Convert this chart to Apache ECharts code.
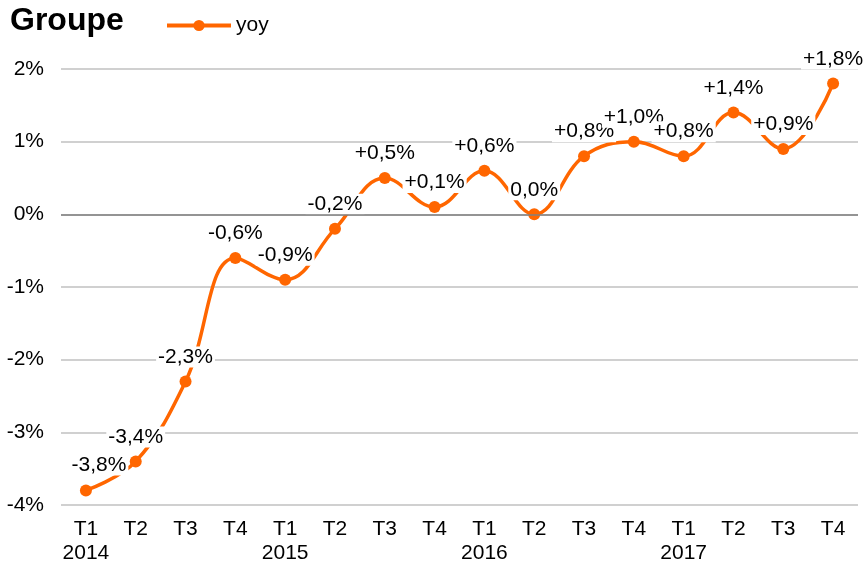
<!DOCTYPE html>
<html>
<head>
<meta charset="utf-8">
<script src="https://cdn.jsdelivr.net/npm/echarts@6/dist/echarts.min.js"></script>
<style>
  html, body { margin: 0; padding: 0; background: #fff; }
  #chart { width: 867px; height: 565px; }
</style>
</head>
<body>
<div id="chart"></div>
<script>
// Quarterly year-over-year change, 2014 to 2017
const quarters = ['T1', 'T2', 'T3', 'T4', 'T1', 'T2', 'T3', 'T4', 'T1', 'T2', 'T3', 'T4', 'T1', 'T2', 'T3', 'T4'];
const years = ['2014', '', '', '', '2015', '', '', '', '2016', '', '', '', '2017', '', '', ''];
const yoy = [-3.8, -3.4, -2.3, -0.6, -0.9, -0.2, 0.5, 0.1, 0.6, 0.0, 0.8, 1.0, 0.8, 1.4, 0.9, 1.8];

const orange = '#FF6600';
const font = '"Liberation Sans", Arial, Helvetica, sans-serif';

function pct(v) {
  const s = Math.abs(v).toFixed(1).replace('.', ',');
  if (v > 0) return '+' + s + '%';
  if (v < 0) return '-' + s + '%';
  return s + '%';
}

const categories = quarters.map((q, i) => q + '\n' + years[i]);

const chart = echarts.init(document.getElementById('chart'), null, { renderer: 'canvas' });
chart.setOption({
  animation: false,
  backgroundColor: '#fff',
  title: {
    text: 'Groupe',
    left: 5,
    top: 0,
    textStyle: { fontFamily: font, fontSize: 32, fontWeight: 'bold', color: '#000' }
  },
  legend: {
    left: 160,
    top: 10,
    itemWidth: 64,
    itemHeight: 14,
    lineStyle: { width: 4 },
    textStyle: { fontFamily: font, fontSize: 21, color: '#000' },
    data: ['yoy']
  },
  grid: { left: 61, right: 9, top: 69, bottom: 60, containLabel: false, outerBoundsMode: 'none' },
  xAxis: {
    type: 'category',
    data: categories,
    boundaryGap: true,
    axisLine: { show: false },
    axisTick: { show: false },
    axisLabel: {
      fontFamily: font, fontSize: 21, color: '#000', margin: 12, lineHeight: 24,
      interval: 0
    }
  },
  yAxis: {
    type: 'value',
    min: -4,
    max: 2,
    interval: 1,
    axisLine: { show: false },
    axisTick: { show: false },
    splitLine: { lineStyle: { color: '#c0c0c0', width: 1.5 } },
    axisLabel: {
      fontFamily: font, fontSize: 21, color: '#000', margin: 17,
      formatter: v => v + '%'
    }
  },
  series: [{
    name: 'yoy',
    type: 'line',
    data: yoy.map((v, i) => i === 0 ? { value: v, label: { offset: [13, -1] } } : v),
    smooth: 0.4,
    symbol: 'circle',
    symbolSize: 12,
    itemStyle: { color: orange },
    lineStyle: { color: orange, width: 3.5 },
    label: {
      show: true,
      position: 'top',
      distance: 8,
      formatter: p => pct(p.value),
      fontFamily: font,
      fontSize: 21,
      color: '#000',
      backgroundColor: '#fff',
      padding: [0, 2, 0, 2]
    },
    markLine: {
      silent: true,
      symbol: 'none',
      label: { show: false },
      lineStyle: { color: '#808080', width: 1.5, type: 'solid' },
      data: [{ yAxis: 0 }]
    }
  }]
});
</script>
</body>
</html>
